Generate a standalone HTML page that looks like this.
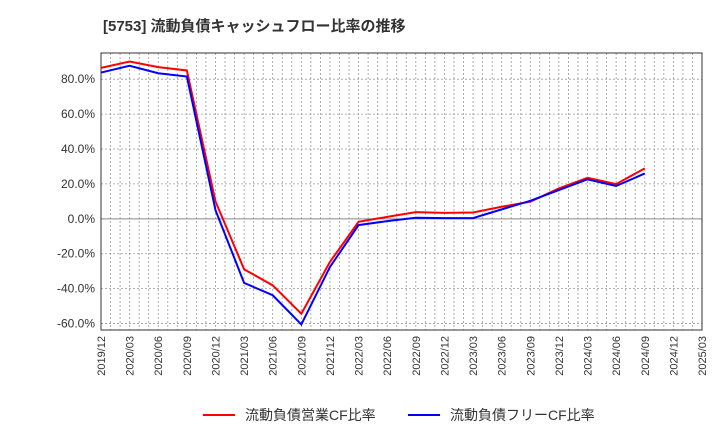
<!DOCTYPE html>
<html><head><meta charset="utf-8"><style>
body{margin:0;background:#fff;font-family:"Liberation Sans","Noto Sans CJK JP",sans-serif;}
</style></head><body>
<svg id="chart" width="720" height="440" xmlns="http://www.w3.org/2000/svg" style="font-family:'Liberation Sans','Noto Sans CJK JP',sans-serif">
<text x="103" y="31" font-size="15" font-weight="bold" fill="#333">[5753]  流動負債キャッシュフロー比率の推移</text>
<g id="grid"></g><g id="axes"></g><g id="series"></g>
<g>
<line x1="203" y1="415" x2="235" y2="415" stroke="#f00" stroke-width="2"/>
<text x="245" y="420" font-size="14" fill="#333">流動負債営業CF比率</text>
<line x1="408" y1="415" x2="440" y2="415" stroke="#00f" stroke-width="2"/>
<text x="450" y="420" font-size="14" fill="#333">流動負債フリーCF比率</text>
</g>
</svg>
<script>
const xLabels=["2019/12","2020/03","2020/06","2020/09","2020/12","2021/03","2021/06","2021/09","2021/12","2022/03","2022/06","2022/09","2022/12","2023/03","2023/06","2023/09","2023/12","2024/03","2024/06","2024/09","2024/12","2025/03"];
const yTicks=[80,60,40,20,0,-20,-40,-60];
const opCF=[86.5,90.1,86.9,85.0,10,-28.9,-38.1,-54.4,-24.7,-1.7,1.1,3.8,3.4,3.6,6.9,9.8,17.4,23.5,19.9,28.9];
const freeCF=[83.8,87.7,83.4,81.5,5,-36.7,-43.8,-60.5,-27.6,-3.6,-1.3,0.6,0.4,0.4,5.4,10.3,16.5,22.6,18.8,26.0];
const L=101,R=702,T=53,B=330,ymin=-63.7,ymax=95;
const xs=i=>L+(R-L)*i/(xLabels.length-1);
const ys=v=>B-(v-ymin)/(ymax-ymin)*(B-T);
const NS="http://www.w3.org/2000/svg";
function mk(tag,attrs,parent){const e=document.createElementNS(NS,tag);for(const k in attrs)e.setAttribute(k,attrs[k]);document.getElementById(parent).appendChild(e);return e;}
for(let m=1;m<63;m++){const x=L+(R-L)*m/63;
const g=mk('line',{x1:x,x2:x,y1:T,y2:B,stroke:'#999','stroke-dasharray':'2,2','stroke-width':0.8},'grid');
}
yTicks.forEach(v=>{const y=ys(v);
const g=mk('line',{x1:L,x2:R,y1:y,y2:y,stroke:v===0?'#888':'#999','stroke-dasharray':v===0?'none':'2,2','stroke-width':v===0?1:0.8},'grid');

const t=mk('text',{x:L-6,y:y+4,'text-anchor':'end','font-size':12,fill:'#333'},'axes');t.textContent=v.toFixed(1)+'%';
});
xLabels.forEach((s,i)=>{const x=xs(i);
const t=mk('text',{x:x+4,y:B+6,'text-anchor':'end','font-size':11,fill:'#333',transform:`rotate(-90 ${x+4} ${B+6})`},'axes');t.textContent=s;
});
const fr=mk('rect',{x:L,y:T,width:R-L,height:B-T,fill:'none',stroke:'#333','stroke-width':1},'axes');

[[opCF,'#f00','operating-cf-line'],[freeCF,'#00f','free-cf-line']].forEach(([d,c,n])=>{
const p=mk('polyline',{points:d.map((v,i)=>xs(i)+','+ys(v)).join(' '),fill:'none',stroke:c,'stroke-width':2},'series');
});
</script>
</body></html>
